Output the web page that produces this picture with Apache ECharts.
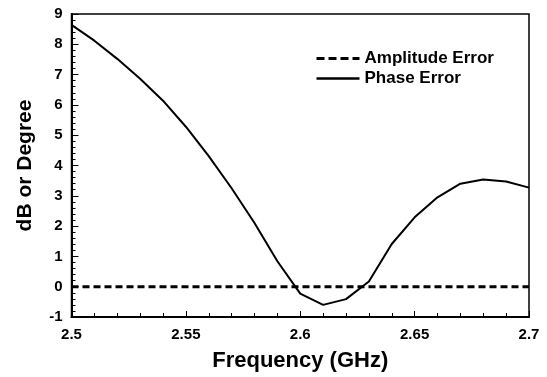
<!DOCTYPE html>
<html>
<head>
<meta charset="utf-8">
<script src="https://cdn.jsdelivr.net/npm/echarts@6/dist/echarts.min.js"></script>
<style>
  html, body { margin: 0; padding: 0; background: #fff; }
  #chart { width: 547px; height: 377px; }
</style>
</head>
<body>
<div id="chart"></div>
<script>
// frequency points (GHz)
const freqs = [2.50, 2.51, 2.52, 2.53, 2.54, 2.55, 2.56, 2.57, 2.58, 2.59, 2.60,
               2.61, 2.62, 2.63, 2.64, 2.65, 2.66, 2.67, 2.68, 2.69, 2.70];
const amplitudeError = [0, 0, 0, 0, 0, 0, 0, 0, 0, 0, 0,
                        0, 0, 0, 0, 0, 0, 0, 0, 0, 0];
const phaseError = [8.64, 8.12, 7.52, 6.86, 6.14, 5.28, 4.31, 3.25, 2.1, 0.84, -0.23,
                    -0.6, -0.41, 0.17, 1.41, 2.29, 2.95, 3.4, 3.54, 3.47, 3.27];
const seriesNames = ["Amplitude Error", "Phase Error"];

const font = "'Liberation Sans', Arial, sans-serif";

const chart = echarts.init(document.getElementById("chart"));

const pairs = (ys) => freqs.map((f, i) => [f, ys[i]]);

chart.setOption({
  animation: false,
  grid: {
    left: 71.5, right: 18, top: 14, bottom: 59,
    show: true, borderColor: "#000", borderWidth: 1.5
  },
  legend: {
    orient: "vertical",
    left: 315, top: 50, padding: 0,
    itemWidth: 43, itemHeight: 12, itemGap: 3,
    itemStyle: { opacity: 0 },
    formatter: "{b|{name}}",
    textStyle: {
      color: "#000",
      rich: { b: { fontFamily: font, fontWeight: "bold", fontSize: 17, lineHeight: 17, color: "#000" } }
    },
    data: [
      { name: seriesNames[0], lineStyle: { color: "#000", width: 3, type: [8, 4] } },
      { name: seriesNames[1], lineStyle: { color: "#000", width: 2.5 } }
    ]
  },
  xAxis: {
    type: "value", min: 2.5, max: 2.7, interval: 0.05,
    name: "Frequency (GHz)", nameLocation: "middle", nameGap: 33,
    nameTextStyle: { fontFamily: font, fontWeight: "bold", fontSize: 22, color: "#000" },
    axisLine: { show: true, onZero: false, lineStyle: { color: "#000", width: 2 } },
    axisTick: { show: true, inside: true, length: 6, lineStyle: { color: "#000", width: 1 } },
    minorTick: { show: true, splitNumber: 5, length: 4, lineStyle: { color: "#000", width: 1 } },
    splitLine: { show: false },
    axisLabel: {
      margin: 10, fontFamily: font, fontWeight: "bold", fontSize: 15, color: "#000",
      formatter: v => String(+v.toFixed(2))
    }
  },
  yAxis: {
    type: "value", min: -1, max: 9, interval: 1,
    name: "dB or Degree", nameLocation: "middle", nameGap: 36,
    nameTextStyle: { fontFamily: font, fontWeight: "bold", fontSize: 21, color: "#000" },
    axisLine: { show: true, onZero: false, lineStyle: { color: "#000", width: 2 } },
    axisTick: { show: true, inside: true, length: 7, lineStyle: { color: "#000", width: 1 } },
    minorTick: { show: true, splitNumber: 5, length: 4, lineStyle: { color: "#000", width: 1 } },
    splitLine: { show: false },
    axisLabel: { margin: 9, fontFamily: font, fontWeight: "bold", fontSize: 15, color: "#000" }
  },
  series: [
    {
      name: seriesNames[0],
      type: "line",
      data: pairs(amplitudeError),
      symbol: "none",
      color: "#000",
      lineStyle: { color: "#000", width: 3, type: [7, 4] }
    },
    {
      name: seriesNames[1],
      type: "line",
      data: pairs(phaseError),
      symbol: "none",
      color: "#000",
      lineStyle: { color: "#000", width: 2 }
    }
  ]
});
</script>
</body>
</html>
